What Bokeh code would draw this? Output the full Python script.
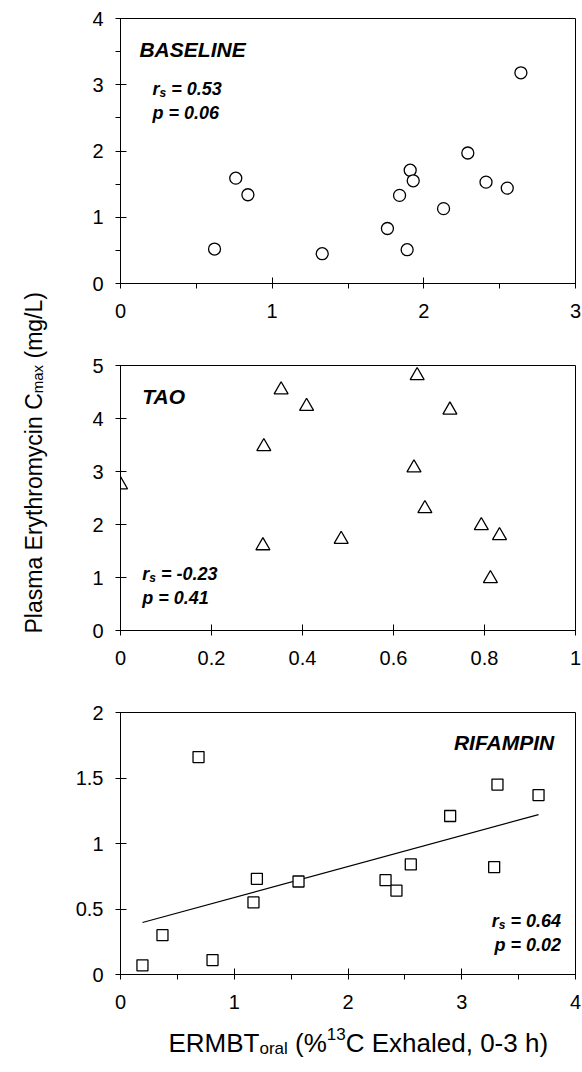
import numpy as np
from bokeh.plotting import figure
from bokeh.models import Range1d, FixedTicker, CustomJSTickFormatter, Label
from bokeh.layouts import row, column
from bokeh.embed import file_html
from bokeh.resources import INLINE

# ---------------- data ----------------
baseline_x = [0.62, 0.76, 0.84, 1.33, 1.76, 1.84, 1.89, 1.91, 1.93, 2.13, 2.29, 2.41, 2.55, 2.64]
baseline_y = [0.52, 1.59, 1.34, 0.45, 0.83, 1.33, 0.51, 1.71, 1.55, 1.13, 1.97, 1.53, 1.44, 3.18]

tao_x = [0.0, 0.315, 0.313, 0.353, 0.409, 0.485, 0.652, 0.645, 0.669, 0.724, 0.793, 0.833, 0.813]
tao_y = [2.75, 3.47, 1.60, 4.54, 4.23, 1.72, 4.81, 3.07, 2.30, 4.16, 1.98, 1.79, 0.98]

rif_x = [0.686, 0.193, 0.369, 0.809, 1.169, 1.199, 1.565, 2.33, 2.426, 2.552, 2.898, 3.285, 3.314, 3.675]
rif_y = [1.66, 0.07, 0.30, 0.11, 0.55, 0.73, 0.71, 0.72, 0.64, 0.84, 1.21, 0.82, 1.45, 1.37]

baseline_xticks = [0, 1, 2, 3]
baseline_yticks = [0, 1, 2, 3, 4]
tao_xticks = [0, 0.2, 0.4, 0.6, 0.8, 1]
tao_yticks = [0, 1, 2, 3, 4, 5]
rif_xticks = [0, 1, 2, 3, 4]
rif_yticks = [0, 0.5, 1, 1.5, 2]

# ---------------- text metrics (Arial / Liberation Sans) ----------------
REG = {' ': 278, 'P': 667, 'l': 222, 'a': 556, 's': 500, 'm': 833, 'E': 667, 'r': 333,
       'y': 500, 't': 278, 'h': 556, 'o': 556, 'i': 222, 'c': 500, 'n': 556, 'C': 722,
       'x': 500, '(': 333, 'g': 556, '/': 278, 'L': 556, ')': 333, 'R': 722, 'M': 833,
       'B': 667, 'T': 611, '%': 889, '1': 556, '3': 556, 'e': 556, 'd': 556, ',': 278,
       '0': 556, '-': 333}
BOLD = {'r': 389, 's': 556, ' ': 278, '=': 584, '.': 278, '-': 333, 'p': 611}
for d in '0123456789':
    BOLD[d] = 556


def tw(s, size, bold=False):
    tab = BOLD if bold else REG
    return sum(tab[c] for c in s) * size / 1000.0


FONT = "Liberation Sans"
STAT = 18
SUB = 12


def lab(p, x, y, text, size, style="bold italic", xo=0, yo=0, align="left", angle=0):
    p.add_layout(Label(x=x, y=y, text=text, x_offset=xo, y_offset=yo,
                       text_font=FONT, text_font_size=f"{size}px", text_font_style=style,
                       text_color="black", text_align=align, text_baseline="alphabetic",
                       angle=angle))


def stat(p, x, y_r, y_p, r_val, p_val, right=False):
    w_r = tw('r', STAT, True)
    w_s = tw('s', SUB, True)
    w_sp = tw(' ', STAT, True)
    rest = "= " + r_val
    total = w_r + w_s + w_sp + tw(rest, STAT, True)
    start = -total if right else 0
    lab(p, x, y_r, "r", STAT, xo=start)
    lab(p, x, y_r, "s", SUB, xo=start + w_r, yo=-4)
    lab(p, x, y_r, rest, STAT, xo=start + w_r + w_s + w_sp)
    lab(p, x, y_p, "p = " + p_val, STAT, align="right" if right else "left")


def blank(w, h, left=0, right=0):
    f = figure(frame_width=w, frame_height=h, x_range=Range1d(0, w), y_range=Range1d(h, 0),
               output_backend="svg", toolbar_location=None, title=None,
               x_axis_location=None, y_axis_location=None,
               min_border_left=left, min_border_right=right, min_border_top=0, min_border_bottom=0)
    f.xgrid.visible = False
    f.ygrid.visible = False
    f.outline_line_color = None
    f.background_fill_color = "white"
    f.border_fill_color = "white"
    return f


def make_panel(xr, yr, xt, xminor, yt, yminor, top, fh, bottom, left, right):
    p = figure(frame_width=455, frame_height=fh, x_range=Range1d(*xr), y_range=Range1d(*yr),
               output_backend="svg", toolbar_location=None, title=None,
               min_border_left=left, min_border_right=right,
               min_border_top=top, min_border_bottom=bottom)
    p.xgrid.visible = False
    p.ygrid.visible = False
    p.outline_line_color = "black"
    p.outline_line_width = 1
    p.outline_line_alpha = 1
    p.background_fill_color = "white"
    p.border_fill_color = "white"
    for ax, ticks, minor, so in ((p.xaxis[0], xt, xminor, 15), (p.yaxis[0], yt, yminor, 12)):
        ax.ticker = FixedTicker(ticks=ticks, minor_ticks=minor)
        ax.formatter = CustomJSTickFormatter(code="return String(tick)")
        ax.major_tick_in = 6
        ax.major_tick_out = 5
        ax.minor_tick_in = 0
        ax.minor_tick_out = 5
        ax.axis_line_color = "black"
        ax.major_tick_line_color = "black"
        ax.minor_tick_line_color = "black"
        ax.major_label_text_font = FONT
        ax.major_label_text_font_size = "20px"
        ax.major_label_text_color = "black"
        ax.major_label_standoff = so
    return p


# ---------------- panel 1: BASELINE ----------------
p1 = make_panel((0, 3), (0, 4), baseline_xticks, [0.5, 1.5, 2.5], baseline_yticks,
                [0.5, 1.5, 2.5, 3.5], top=18, fh=265, bottom=46, left=70, right=7)
p1.scatter(baseline_x, baseline_y, marker="circle", size=12, fill_color="white",
           line_color="black", line_width=1.3)
lab(p1, 0.125, 3.53, "BASELINE", 21)
stat(p1, 0.211, 2.94, 2.58, "0.53", "0.06")

# ---------------- panel 2: TAO ----------------
p2 = make_panel((0, 1), (0, 5), tao_xticks, [], tao_yticks, [],
                top=36, fh=265, bottom=46, left=70, right=7)
p2.scatter(tao_x, tao_y, marker="triangle", size=14, fill_color="white",
           line_color="black", line_width=1.3)
lab(p2, 0.048, 4.415, "TAO", 21)
stat(p2, 0.048, 1.07, 0.617, "-0.23", "0.41")

# ---------------- panel 3: RIFAMPIN ----------------
p3 = make_panel((0, 4), (0, 2), rif_xticks, [0.5, 1.5, 2.5, 3.5], rif_yticks, [],
                top=36, fh=262, bottom=46, left=70, right=7)
slope, icpt = np.polyfit(rif_x, rif_y, 1)
fx = np.array([min(rif_x), max(rif_x)])
p3.line(fx, slope * fx + icpt, line_color="black", line_width=1.2)
p3.scatter(rif_x, rif_y, marker="square", size=11, fill_color="white",
           line_color="black", line_width=1.3)
lab(p3, 3.813, 1.773, "RIFAMPIN", 21, align="right")
stat(p3, 3.872, 0.412, 0.229, "0.64", "0.02", right=True)

# ---------------- x-axis title (sub/superscript) ----------------
# strip with the same borders as the panels (frame left edge at x = 120)
xlab = blank(455, 52, left=70, right=7)
XL = 26
XS = 17
xx, xy = 48, 22
o = 0
lab(xlab, xx, xy, "ERMBT", XL, style="normal", xo=o)
o += tw("ERMBT", XL)
lab(xlab, xx, xy, "oral", XS, style="normal", xo=o, yo=-6)
o += tw("oral", XS) + tw(" ", XL)
lab(xlab, xx, xy, "(%", XL, style="normal", xo=o)
o += tw("(%", XL)
lab(xlab, xx, xy, "13", XS, style="normal", xo=o, yo=9)
o += tw("13", XS)
lab(xlab, xx, xy, "C Exhaled, 0-3 h)", XL, style="normal", xo=o)

# ---------------- shared y-axis title ----------------
ylab = blank(50, 1072)
YL = 23
YS = 15
y0 = 633
lab(ylab, 33, y0, "Plasma Erythromycin C", YL, style="normal", angle=np.pi / 2)
y0 -= tw("Plasma Erythromycin C", YL)
lab(ylab, 36.5, y0, "max", YS, style="normal", angle=np.pi / 2)
y0 -= tw("max", YS) + tw(" ", YL)
lab(ylab, 33, y0, "(mg/L)", YL, style="normal", angle=np.pi / 2)

layout = row(ylab, column(p1, p2, p3, xlab))
open("out.html", "w").write(file_html(layout, INLINE))
